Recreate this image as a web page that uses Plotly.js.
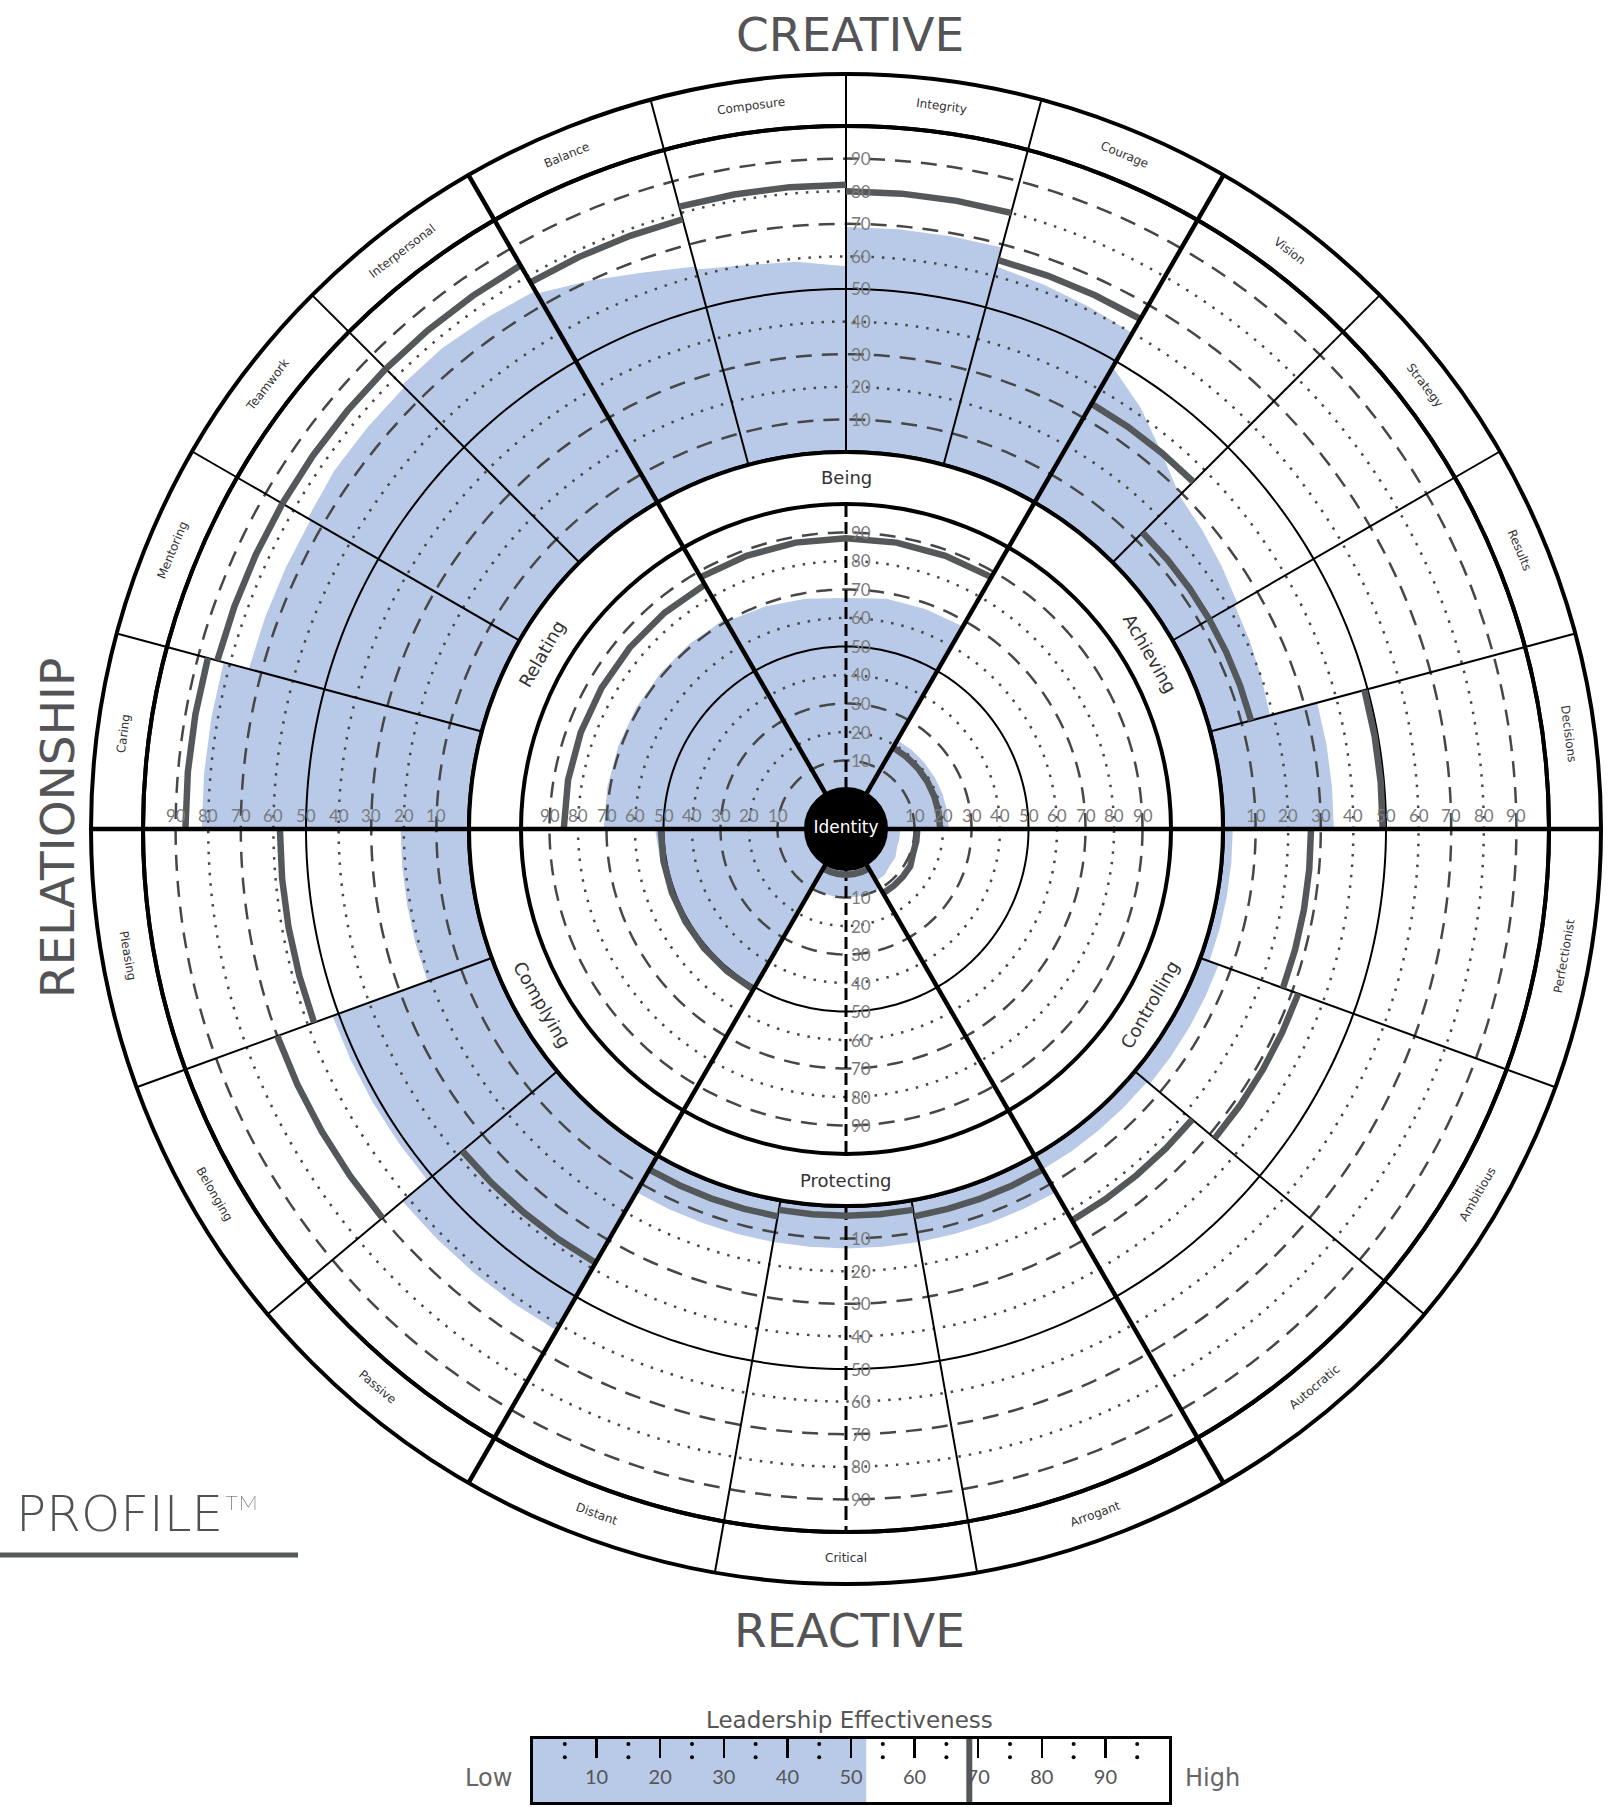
<!DOCTYPE html>
<html><head><meta charset="utf-8">
<script src="https://cdn.plot.ly/plotly-3.0.1.min.js"></script>
<style>html,body{margin:0;padding:0;background:#fff}#chart{width:1617px;height:1807px}</style>
</head><body><div id="chart"></div>
<script>
// ---------------- data ----------------
const creativeDims = ['Decisions','Results','Strategy','Vision','Courage','Integrity','Composure','Balance','Interpersonal','Teamwork','Mentoring','Caring'];
const reactiveDims = ['Pleasing','Belonging','Passive','Distant','Critical','Arrogant','Autocratic','Ambitious','Perfectionist'];
const summaryDims = ['Achieving','Being','Relating','Complying','Protecting','Controlling'];
const ringTickValues = [10,20,30,40,50,60,70,80,90];

// outer ring, self score (blue) read every 5 degrees across each segment
const outerSelf = [
  [34,34,34,34],[19,20,21,22],[23,25,27,29],[29,35,42,48],
  [60,61,62,63],[69,69,69,69],[57,59,60,62],[63,66,70,74],
  [75,76,77,77],[76,76,76,75],[74,74,74,74],[82,82,82,82],
  [21,21,21,21,21],[52,52,52,52,52],[62,62,62,62,62],
  [13,13,13,13,13],[13,13,13,13,13],[13,13,13,13,13],
  [5,5,5,5,5],[6,6,6,6,6],[3,3,3,3,3]
];
// outer ring, norm line (dark grey)
const outerNorm = [
  [49,49,49,49],[13,13,13,13],[13,13,13,13],[35,35,35,35],
  [65,65,65,65],[80,80,80,80],[82,82,82,82],[78,78,78,78],
  [84,84,84,84],[84,84,84,84],[84,84,84,84],[87,87,87,87],
  [58,58,58,58,58],[70,70,70,70,70],[38,38,38,38,38],
  [5,5,5,5,5],[3,3,3,3,3],[5,5,5,5,5],
  [23,23,23,23,23],[32,32,32,32,32],[27,27,27,27,27]
];
// inner circle (summary), read every 10 degrees across each sector
const innerSelf = [
  [22,22,22,22,22,22,22],[68,68,68,67,68,69,70],[71,71,71,71,71,71,71],
  [53,52,52,51,50,50,50],[10,10,10,10,10,10,10],[7,7,6,6,5,5,5]
];
const innerNorm = [
  [19,19,19,19,19,19,19],[88,88,88,88,88,88,88],[85,85,85,85,85,85,85],
  [51,51,51,51,51,51,51],[2,2,2,2,2,2,2],[12,12,12,12,11,11,11]
];
const effectivenessTicks = [10,20,30,40,50,60,70,80,90];
const effectivenessScore = 52.4;
const effectivenessNorm = 68.6;

// ---------------- geometry ----------------
const W=1617, H=1807, CX=846, CY=829;
const R_ID=40, R_IN=325, R_BAND=377, R_OUT=703, R_LAB=755;
const BLUE='#b8cae8', NORM='#55585b', GRID='#474747', TXT='#333333', TICK='#7a7a7a';
const FONT='Lato, "Open Sans", sans-serif';
const WIDE='"DejaVu Sans", Lato, sans-serif';

function dom(R){ return {x:[(CX-R)/W,(CX+R)/W], y:[(H-CY-R)/H,(H-CY+R)/H]}; }
function toPaper(rpx,deg){ const a=deg*Math.PI/180; return {x:(CX+rpx*Math.cos(a))/W, y:(H-(CY-rpx*Math.sin(a)))/H}; }
const rOuter = v => R_BAND + (R_OUT-R_BAND)*v/100;
const rInner = v => R_ID + (R_IN-R_ID)*v/100;

const outerSegs = [];
for(let i=0;i<12;i++) outerSegs.push([i*15,15]);
for(let i=0;i<9;i++) outerSegs.push([180+i*20,20]);
const innerSegs = [];
for(let i=0;i<6;i++) innerSegs.push([i*60,60]);

function path(values, segs, step, gaps){
  const th=[], r=[];
  values.forEach((vals,i)=>{
    const s=segs[i][0];
    vals.forEach((v,k)=>{ th.push(s+k*step); r.push(v); });
    if(gaps){ th.push(null); r.push(null); }
  });
  return {th,r};
}
function circle(step){ const t=[]; for(let a=0;a<=360;a+=step) t.push(a); return t; }

const traces=[];
const base={type:'scatterpolar', mode:'lines', hoverinfo:'skip', showlegend:false, cliponaxis:false};

// ---- polar: outer label ring ----
const allBounds = outerSegs.map(s=>s[0]);
allBounds.forEach(b=>{
  if(b%60!==0) traces.push({...base, subplot:'polar', r:[0,1], theta:[b,b], line:{color:'#000',width:2}});
});

function drawRing(sub, selfVals, normVals, segs, step, isOuter){
  const p = path(selfVals, segs, step, false);
  const back = circle(5).reverse();
  traces.push({...base, subplot:sub, theta:p.th.concat(back), r:p.r.concat(back.map(()=>0)),
    fill:'toself', fillcolor:BLUE, line:{width:0,color:BLUE}});
  const c = circle(1);
  [10,30,70,90].forEach(v=>traces.push({...base, subplot:sub, theta:c, r:c.map(()=>v), line:{color:GRID,width:2.5,dash:'16px,10px'}}));
  [20,40,60,80].forEach(v=>traces.push({...base, subplot:sub, theta:c, r:c.map(()=>v), line:{color:GRID,width:2.5,dash:'2.5px,8px'}}));
  traces.push({...base, subplot:sub, theta:c, r:c.map(()=>50), line:{color:'#000',width:2}});
  if(isOuter){
    allBounds.forEach(b=>{ if(b%60!==0) traces.push({...base, subplot:sub, r:[0,100], theta:[b,b], line:{color:'#000',width:2}}); });
    traces.push({...base, subplot:sub, r:[0,100], theta:[270,270], line:{color:'#000',width:3,dash:'14px,6px'}});
    traces.push({...base, subplot:sub, theta:c, r:c.map(()=>0), line:{color:'#000',width:4}});
  } else {
    traces.push({...base, subplot:sub, r:[0,100], theta:[90,90], line:{color:'#000',width:3,dash:'12px,5px'}});
    traces.push({...base, subplot:sub, r:[0,100], theta:[270,270], line:{color:'#000',width:3,dash:'12px,5px'}});
  }
  const n = path(normVals, segs, step, true);
  traces.push({...base, subplot:sub, theta:n.th, r:n.r, connectgaps:false, line:{color:NORM,width:6.5}});
}
drawRing('polar2', outerSelf, outerNorm, outerSegs, 5, true);
drawRing('polar3', innerSelf, innerNorm, innerSegs, 10, false);

// ---- polar4: main sector spokes + identity ----
[0,60,120,180,240,300].forEach(a=>traces.push({...base, subplot:'polar4', r:[R_ID,R_LAB], theta:[a,a], line:{color:'#000',width:4.5}}));
traces.push({type:'scatterpolar', subplot:'polar4', mode:'markers+text', r:[0], theta:[0], marker:{size:2*R_ID,color:'#000'},
  text:['Identity'], textposition:'middle center', textfont:{color:'#fff',size:17,family:WIDE}, hoverinfo:'skip', showlegend:false, cliponaxis:false});

// ---- legend bar (cartesian) ----
traces.push({type:'bar', orientation:'h', x:[effectivenessScore], y:[0.5], base:0, width:1, marker:{color:BLUE,line:{width:0}}, xaxis:'x', yaxis:'y', hoverinfo:'skip', showlegend:false});
traces.push({type:'scatter', mode:'lines', x:[effectivenessNorm,effectivenessNorm], y:[0,1], line:{color:NORM,width:6}, xaxis:'x', yaxis:'y', hoverinfo:'skip', showlegend:false});
const mids = effectivenessTicks.map(v=>v-5).concat([95]);
traces.push({type:'scatter', mode:'markers', x:mids.concat(mids), y:mids.map(()=>0.92).concat(mids.map(()=>0.71)), marker:{size:4,color:'#000'}, xaxis:'x', yaxis:'y', hoverinfo:'skip', showlegend:false});
traces.push({type:'scatter', mode:'text', x:effectivenessTicks, y:effectivenessTicks.map(()=>0.37), text:effectivenessTicks.map(String), textfont:{size:20,color:'#555',family:FONT}, xaxis:'x', yaxis:'y', hoverinfo:'skip', showlegend:false});

// ---------------- annotations ----------------
const ann=[];
function A(o){ ann.push(Object.assign({xref:'paper',yref:'paper',showarrow:false,font:{family:WIDE,size:12,color:TXT}},o)); }
creativeDims.forEach((d,i)=>{ const th=i*15+7.5; const p=toPaper((R_OUT+R_LAB)/2,th); A({x:p.x,y:p.y,text:d,textangle:90-th,xanchor:'center',yanchor:'middle'}); });
reactiveDims.forEach((d,i)=>{ const th=180+i*20+10; const p=toPaper((R_OUT+R_LAB)/2,th); A({x:p.x,y:p.y,text:d,textangle:270-th,xanchor:'center',yanchor:'middle'}); });
summaryDims.forEach((d,i)=>{ const ang=i*60+30;
  const p=toPaper((R_IN+R_BAND)/2,ang); A({x:p.x,y:p.y,text:d,textangle:ang<180?90-ang:270-ang,xanchor:'center',yanchor:'middle',font:{family:WIDE,size:18,color:TXT}}); });
// ring tick labels
[rOuter, rInner].forEach(rf=>{
  ringTickValues.forEach(v=>{
    const r=rf(v), f={family:FONT,size:17,color:TICK};
    A({x:(CX+3)/W, y:(H-(CY-r))/H, text:String(v), xanchor:'left', yanchor:'middle', font:f});
    A({x:(CX+3)/W, y:(H-(CY+r))/H, text:String(v), xanchor:'left', yanchor:'middle', font:f});
    A({x:(CX-r)/W, y:(H-CY+1)/H, text:String(v), xanchor:'center', yanchor:'bottom', font:f});
    A({x:(CX+r)/W, y:(H-CY+1)/H, text:String(v), xanchor:'center', yanchor:'bottom', font:f});
  });
});
const TF={family:WIDE,size:47,color:'#545457'};
A({x:850/W, y:1-34/H, text:'CREATIVE', xanchor:'center', yanchor:'middle', font:TF});
A({x:850/W, y:1-1630/H, text:'REACTIVE', xanchor:'center', yanchor:'middle', font:TF});
A({x:57/W, y:1-828/H, text:'RELATIONSHIP', textangle:-90, xanchor:'center', yanchor:'middle', font:TF});
A({x:14/W, y:1-1514/H, text:'PROFILE™', xanchor:'left', yanchor:'middle', font:{family:WIDE,size:50,color:'#4f5255',weight:200}});
A({x:850/W, y:1-1720/H, text:'Leadership Effectiveness', xanchor:'center', yanchor:'middle', font:{family:WIDE,size:23,color:'#555'}});
A({x:488/W, y:1-1778/H, text:'Low', xanchor:'center', yanchor:'middle', font:{family:WIDE,size:24,color:'#666'}});
A({x:1212/W, y:1-1778/H, text:'High', xanchor:'center', yanchor:'middle', font:{family:WIDE,size:24,color:'#666'}});

// ---------------- layout ----------------
function polarLayout(R,hole,range,lineW){
  return {domain:dom(R), hole:hole, bgcolor:'rgba(0,0,0,0)',
    radialaxis:{visible:false, range:range},
    angularaxis:{visible:lineW>0, showline:lineW>0, linecolor:'#000', linewidth:lineW, showgrid:false, showticklabels:false, ticks:'', rotation:0, direction:'counterclockwise'}};
}
const layout={
  width:W, height:H, margin:{l:0,r:0,t:0,b:0}, paper_bgcolor:'#fff', plot_bgcolor:'rgba(0,0,0,0)',
  font:{family:FONT}, showlegend:false, dragmode:false,
  polar: polarLayout(R_LAB, R_OUT/R_LAB, [0,1], 4),
  polar2: polarLayout(R_OUT, R_BAND/R_OUT, [0,100], 4),
  polar3: polarLayout(R_IN, R_ID/R_IN, [0,100], 4),
  polar4: polarLayout(R_LAB, 0, [0,R_LAB], 0),
  xaxis:{domain:[533/W,1169/W], range:[0,100], anchor:'y', side:'top', ticks:'inside', ticklen:19, tickwidth:2.5, tickcolor:'#000',
    tickvals:effectivenessTicks, showticklabels:false, showline:true, mirror:true, linewidth:3, linecolor:'#000', showgrid:false, zeroline:false, fixedrange:true},
  yaxis:{domain:[1-1802/H,1-1739/H], range:[0,1], anchor:'x', showticklabels:false, ticks:'', showline:true, mirror:true, linewidth:3, linecolor:'#000', showgrid:false, zeroline:false, fixedrange:true},
  shapes:[{type:'line', xref:'paper', yref:'paper', x0:0, x1:298/W, y0:1-1555/H, y1:1-1555/H, line:{color:'#55585b',width:5}}],
  annotations:ann
};
Plotly.newPlot('chart', traces, layout, {staticPlot:true, displayModeBar:false});
</script></body></html>
